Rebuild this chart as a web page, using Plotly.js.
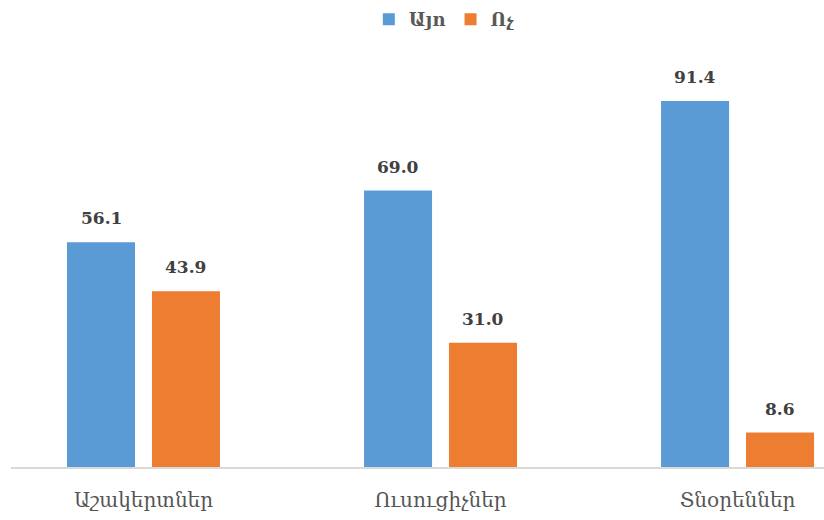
<!DOCTYPE html>
<html>
<head>
<meta charset="utf-8">
<script src="https://cdn.plot.ly/plotly-3.0.1.min.js"></script>
<style>html,body{margin:0;padding:0;background:#fff;}#chart{width:824px;height:520px;}</style>
</head>
<body>
<div id="chart"></div>
<script>
const categories = ["Աշակերտներ", "Ուսուցիչներ", "Տնօրեններ"];
const yesValues = [56.1, 69.0, 91.4];
const noValues = [43.9, 31.0, 8.6];
const seriesNames = ["Այո", "Ոչ"];

const armFont = "DejaVu Serif, serif";
const labelFont = {family: armFont, size: 17, color: "#404040"};
const W = 0.229, OFF_YES = -0.2575, OFF_NO = 0.0285;

const traces = [
  {
    type: "bar", name: seriesNames[0], x: categories, y: yesValues,
    marker: {color: "#5b9bd5"}, width: W, offset: OFF_YES, hoverinfo: "none"
  },
  {
    type: "bar", name: seriesNames[1], x: categories, y: noValues,
    marker: {color: "#ed7d31"}, width: W, offset: OFF_NO, hoverinfo: "none"
  }
];

const annotations = [];
categories.forEach((c, i) => {
  annotations.push({x: i + OFF_YES + W / 2, y: yesValues[i], xref: "x", yref: "y",
    text: "<b>" + yesValues[i].toFixed(1) + "</b>", showarrow: false,
    yanchor: "bottom", yshift: 12, font: labelFont});
  annotations.push({x: i + OFF_NO + W / 2, y: noValues[i], xref: "x", yref: "y",
    text: "<b>" + noValues[i].toFixed(1) + "</b>", showarrow: false,
    yanchor: "bottom", yshift: 12, font: labelFont});
});

const layout = {
  width: 824, height: 520,
  margin: {l: 11, r: 0, t: 40, b: 53},
  paper_bgcolor: "#fff", plot_bgcolor: "#fff",
  barmode: "group",
  showlegend: true,
  legend: {orientation: "h", x: 0.533, xanchor: "center", y: 0.998, yanchor: "top", yref: "container",
           font: {family: armFont, size: 18, color: "#595959", weight: "bold"}},
  xaxis: {type: "category", range: [-0.446, 2.291], showgrid: false, zeroline: false,
          showline: true, linecolor: "#d9d9d9", linewidth: 1.5, ticks: "",
          ticklabelstandoff: 14,
          tickfont: {family: armFont, size: 20, color: "#555555"}},
  yaxis: {range: [0, 106.6], showgrid: false, zeroline: false, showline: false, showticklabels: false, ticks: ""},
  annotations: annotations
};

Plotly.newPlot("chart", traces, layout, {displayModeBar: false, staticPlot: true});
</script>
</body>
</html>
